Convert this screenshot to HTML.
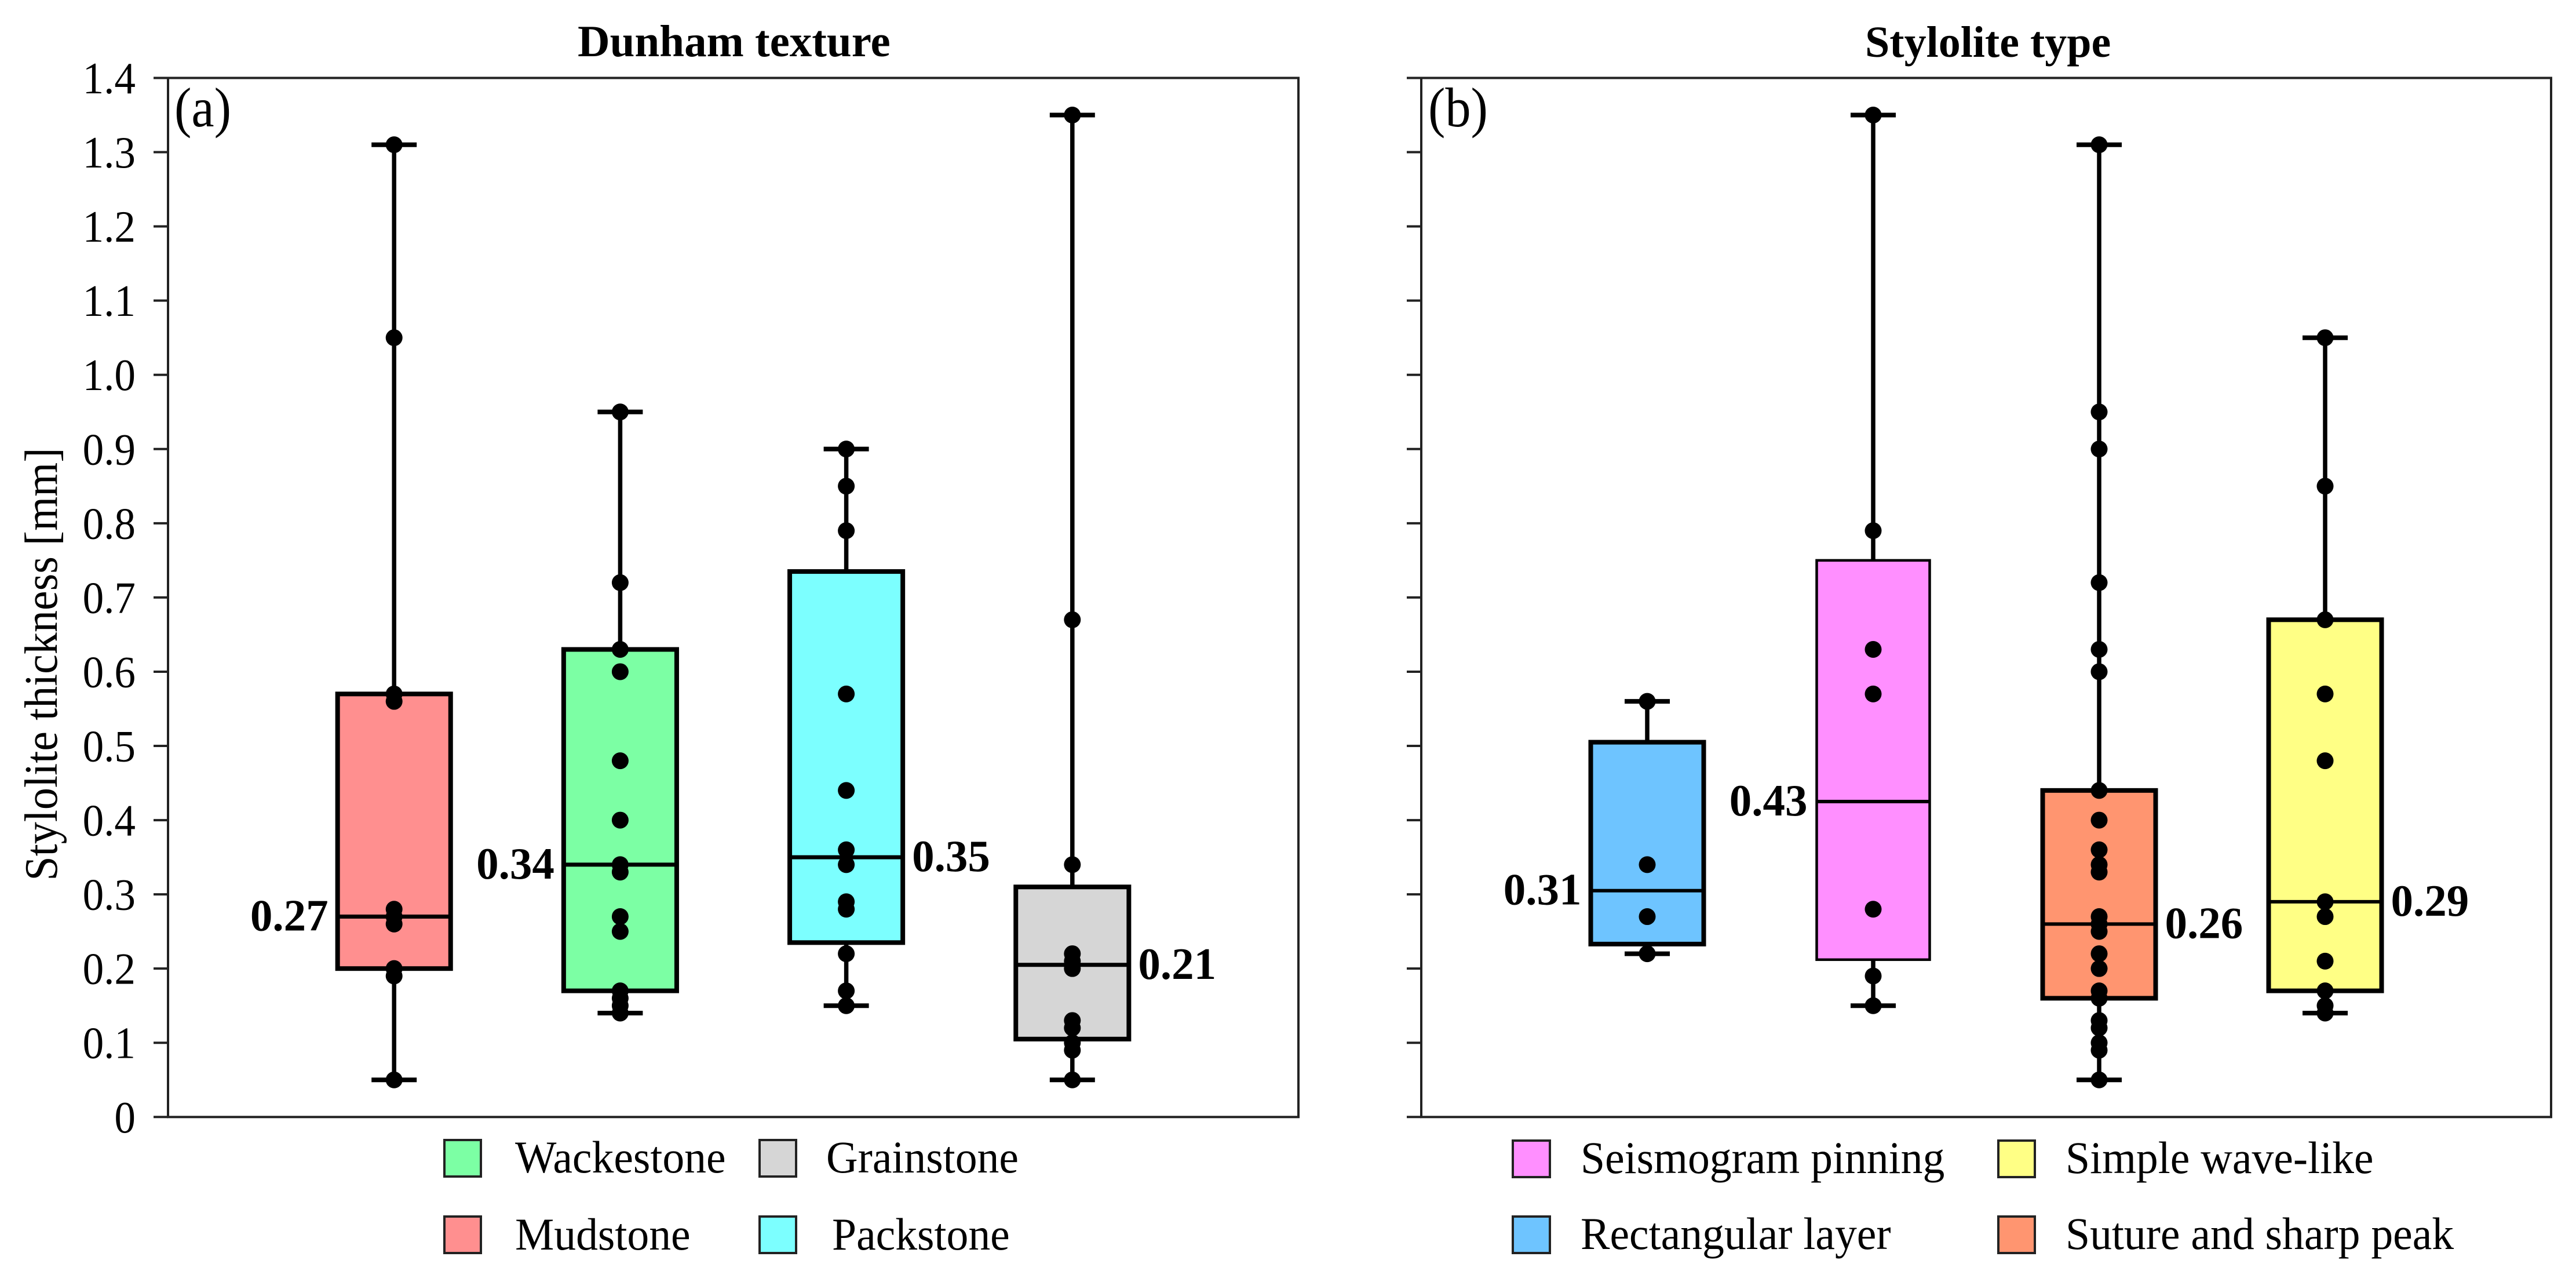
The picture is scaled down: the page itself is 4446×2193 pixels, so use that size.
<!DOCTYPE html>
<html lang="en">
<head>
<meta charset="utf-8">
<title>Stylolite thickness box plots</title>
<style>
html,body{margin:0;padding:0;background:#fff;width:4446px;height:2193px;overflow:hidden}
svg{display:block}
text{font-family:"Liberation Serif",serif;fill:#000}
</style>
</head>
<body>
<svg id="chart" xmlns="http://www.w3.org/2000/svg" width="4446" height="2193" viewBox="0 0 4446 2193">
  <rect x="0" y="0" width="4446" height="2193" fill="#fff"/>
  <text x="997" y="97" font-size="77" font-weight="bold">Dunham texture</text>
  <text x="3219" y="98" font-size="76" font-weight="bold">Stylolite type</text>
  <text transform="translate(98 1146) rotate(-90) scale(.95 1)" text-anchor="middle" font-size="80">Stylolite thickness [mm]</text>
  <text transform="translate(301 218) scale(.92 1)" font-size="96">(a)</text>
  <text transform="translate(2465 218) scale(.92 1)" font-size="96">(b)</text>
  <g id="panel-a"></g>
  <g id="panel-b"></g>

  <g>
    <g>
      <rect x="767" y="1967" width="63" height="63" fill="#7CFFA4" stroke="#222" stroke-width="4"/>
      <text transform="translate(889 2023) scale(.97 1)" font-size="78">Wackestone</text>
    </g>
    <g>
      <rect x="1311" y="1967" width="63" height="63" fill="#D6D6D6" stroke="#222" stroke-width="4"/>
      <text transform="translate(1426 2023) scale(.97 1)" font-size="78">Grainstone</text>
    </g>
    <g>
      <rect x="767" y="2099" width="63" height="63" fill="#FF8F8F" stroke="#222" stroke-width="4"/>
      <text transform="translate(889 2156) scale(.97 1)" font-size="78">Mudstone</text>
    </g>
    <g>
      <rect x="1311" y="2099" width="63" height="63" fill="#7CFFFF" stroke="#222" stroke-width="4"/>
      <text transform="translate(1436 2156) scale(.97 1)" font-size="78">Packstone</text>
    </g>
  </g>

  <g>
    <g>
      <rect x="2611" y="1968" width="64" height="63" fill="#FF8FFF" stroke="#222" stroke-width="4"/>
      <text transform="translate(2728 2024) scale(.97 1)" font-size="78">Seismogram pinning</text>
    </g>
    <g>
      <rect x="3449" y="1968" width="63" height="63" fill="#FFFF85" stroke="#222" stroke-width="4"/>
      <text transform="translate(3565 2024) scale(.97 1)" font-size="78">Simple wave-like</text>
    </g>
    <g>
      <rect x="2611" y="2099" width="64" height="63" fill="#6EC4FF" stroke="#222" stroke-width="4"/>
      <text transform="translate(2728 2155) scale(.97 1)" font-size="78">Rectangular layer</text>
    </g>
    <g>
      <rect x="3449" y="2099" width="63" height="63" fill="#FF9570" stroke="#222" stroke-width="4"/>
      <text transform="translate(3565 2155) scale(.97 1)" font-size="78">Suture and sharp peak</text>
    </g>
  </g>
</svg>

<script>
// ---- Shared axis data ----
const yTickValues = [0, 0.1, 0.2, 0.3, 0.4, 0.5, 0.6, 0.7, 0.8, 0.9, 1.0, 1.1, 1.2, 1.3, 1.4];
const yTickLabels = ['0', '0.1', '0.2', '0.3', '0.4', '0.5', '0.6', '0.7', '0.8', '0.9', '1.0', '1.1', '1.2', '1.3', '1.4'];

// ---- Panel (a): Dunham texture ----
const textureCategories = ['mudstone', 'wackestone', 'packstone', 'grainstone'];
const textureQ1 = [0.20, 0.17, 0.235, 0.105];
const textureMedian = [0.27, 0.34, 0.35, 0.205];
const textureQ3 = [0.57, 0.63, 0.735, 0.31];
const textureWhiskerLow = [0.05, 0.14, 0.15, 0.05];
const textureWhiskerHigh = [1.31, 0.95, 0.90, 1.35];
const textureMedianLabels = ['0.27', '0.34', '0.35', '0.21'];
const textureLabelSides = ['left', 'left', 'right', 'right'];
const textureColors = ['#FF8F8F', '#7CFFA4', '#7CFFFF', '#D6D6D6'];
const texturePoints = [
  [1.31, 1.05, 0.57, 0.56, 0.28, 0.27, 0.26, 0.20, 0.19, 0.05],
  [0.95, 0.72, 0.63, 0.60, 0.48, 0.40, 0.34, 0.33, 0.27, 0.25, 0.17, 0.16, 0.15, 0.14],
  [0.90, 0.85, 0.79, 0.57, 0.44, 0.36, 0.34, 0.29, 0.28, 0.22, 0.17, 0.15],
  [1.35, 0.67, 0.34, 0.22, 0.21, 0.20, 0.13, 0.12, 0.10, 0.09, 0.05]
];

// ---- Panel (b): Stylolite type ----
const styloliteCategories = ['rectangular-layer', 'seismogram-pinning', 'suture-and-sharp-peak', 'simple-wave-like'];
const styloliteQ1 = [0.233, 0.212, 0.16, 0.17];
const styloliteMedian = [0.305, 0.425, 0.26, 0.29];
const styloliteQ3 = [0.505, 0.75, 0.44, 0.67];
const styloliteWhiskerLow = [0.22, 0.15, 0.05, 0.14];
const styloliteWhiskerHigh = [0.56, 1.35, 1.31, 1.05];
const styloliteMedianLabels = ['0.31', '0.43', '0.26', '0.29'];
const styloliteLabelSides = ['left', 'left', 'right', 'right'];
const styloliteColors = ['#6EC4FF', '#FF8FFF', '#FF9570', '#FFFF85'];
const stylolitePoints = [
  [0.56, 0.34, 0.27, 0.22],
  [1.35, 0.79, 0.63, 0.57, 0.28, 0.19, 0.15],
  [1.31, 0.95, 0.90, 0.72, 0.63, 0.60, 0.44, 0.40, 0.36, 0.34, 0.33, 0.27, 0.26, 0.25, 0.22, 0.20, 0.17, 0.16, 0.13, 0.12, 0.10, 0.09, 0.05],
  [1.05, 0.85, 0.67, 0.57, 0.48, 0.29, 0.27, 0.21, 0.17, 0.15, 0.14]
];

const SVG_NS = 'http://www.w3.org/2000/svg';

function make(parent, tag, attrs) {
  const el = document.createElementNS(SVG_NS, tag);
  for (const key in attrs) el.setAttribute(key, attrs[key]);
  parent.appendChild(el);
  return el;
}

function drawPanel(cfg) {
  const root = document.getElementById(cfg.id);
  const plotTop = 134.5, plotBottom = 1927.3, yMax = 1.4;
  const y = v => plotBottom - (v / yMax) * (plotBottom - plotTop);
  const x = i => cfg.left + (i + 1) * (cfg.right - cfg.left) / 5;
  const boxWidth = (cfg.right - cfg.left) / 10;
  const capHalf = 39;

  // axis ticks and tick labels
  yTickValues.forEach((v, i) => {
    const tick = make(root, 'line', { x1: cfg.left - 25, x2: cfg.left, y1: y(v), y2: y(v), stroke: '#222', 'stroke-width': 4 });
    
    
    if (cfg.showLabels) {
      const label = make(root, 'text', { transform: 'translate(' + (cfg.left - 56) + ' ' + (y(v) + 26.5) + ') scale(.95 1)', 'text-anchor': 'end', 'font-size': 77 });
      
      
      label.textContent = yTickLabels[i];
    }
  });

  // axes frame
  const frame = make(root, 'rect', { x: cfg.left, y: plotTop, width: cfg.right - cfg.left, height: plotBottom - plotTop, fill: 'none', stroke: '#222', 'stroke-width': 4 });
  
  

  cfg.categories.forEach((name, i) => {
    const cx = x(i);
    const group = make(root, 'g', {});
    
    

    const whiskerUp = make(group, 'line', { x1: cx, x2: cx, y1: y(cfg.q3[i]), y2: y(cfg.high[i]), stroke: '#000', 'stroke-width': 7.5 });
    
    

    const whiskerDown = make(group, 'line', { x1: cx, x2: cx, y1: y(cfg.q1[i]), y2: y(cfg.low[i]), stroke: '#000', 'stroke-width': 7.5 });
    
    

    const capUp = make(group, 'line', { x1: cx - capHalf, x2: cx + capHalf, y1: y(cfg.high[i]), y2: y(cfg.high[i]), stroke: '#000', 'stroke-width': 8 });
    
    

    const capDown = make(group, 'line', { x1: cx - capHalf, x2: cx + capHalf, y1: y(cfg.low[i]), y2: y(cfg.low[i]), stroke: '#000', 'stroke-width': 8 });
    
    

    const box = make(group, 'rect', {
      x: cx - boxWidth / 2, y: y(cfg.q3[i]), width: boxWidth, height: y(cfg.q1[i]) - y(cfg.q3[i]),
      fill: cfg.colors[i], stroke: '#000', 'stroke-width': name === 'seismogram-pinning' ? 4.5 : 8
    });
    
    

    const median = make(group, 'line', { x1: cx - boxWidth / 2, x2: cx + boxWidth / 2, y1: y(cfg.median[i]), y2: y(cfg.median[i]), stroke: '#000', 'stroke-width': cfg.medianStroke });
    
    

    cfg.points[i].forEach(v => {
      const dot = make(group, 'circle', { cx: cx, cy: y(v), r: 14.5, fill: '#000' });
      
      
    });

    const left = cfg.sides[i] === 'left';
    const value = make(group, 'text', {
      x: left ? cx - boxWidth / 2 - 16 : cx + boxWidth / 2 + 16,
      y: y(cfg.median[i]) + 24,
      'text-anchor': left ? 'end' : 'start',
      'font-size': 77, 'font-weight': 'bold'
    });
    
    
    value.textContent = cfg.labels[i];
  });
}

drawPanel({
  id: 'panel-a', left: 290, right: 2241, showLabels: true, medianStroke: 7,
  categories: textureCategories, q1: textureQ1, median: textureMedian, q3: textureQ3,
  low: textureWhiskerLow, high: textureWhiskerHigh, labels: textureMedianLabels,
  sides: textureLabelSides, colors: textureColors, points: texturePoints
});
drawPanel({
  id: 'panel-b', left: 2453, right: 4403, showLabels: false, medianStroke: 6,
  categories: styloliteCategories, q1: styloliteQ1, median: styloliteMedian, q3: styloliteQ3,
  low: styloliteWhiskerLow, high: styloliteWhiskerHigh, labels: styloliteMedianLabels,
  sides: styloliteLabelSides, colors: styloliteColors, points: stylolitePoints
});
</script>
</body>
</html>
